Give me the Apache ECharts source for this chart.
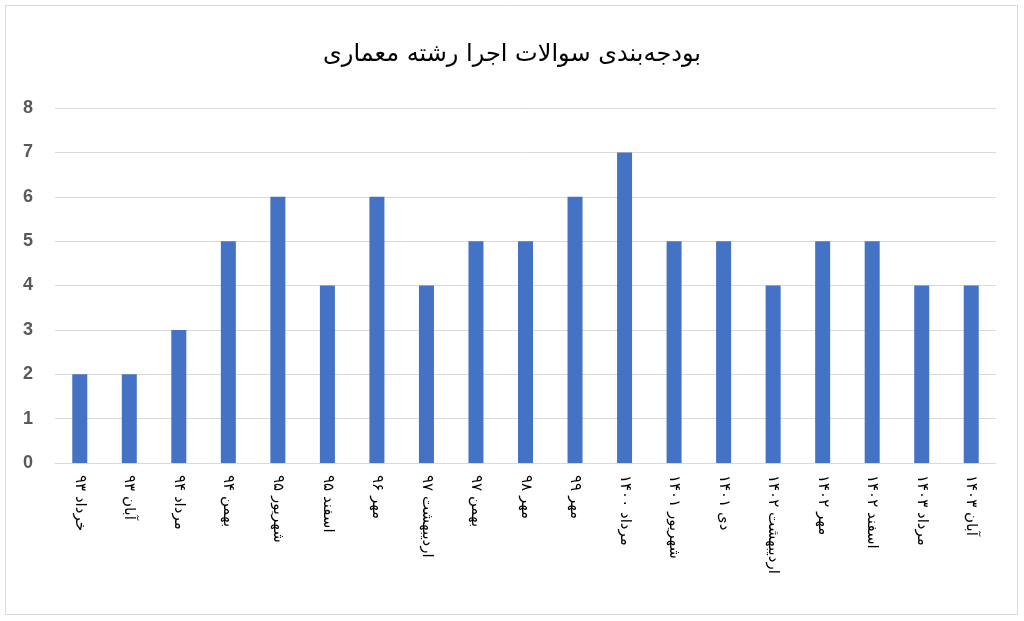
<!DOCTYPE html>
<html><head><meta charset="utf-8">
<script src="https://cdn.jsdelivr.net/npm/echarts@6/dist/echarts.min.js"></script>
<style>html,body{margin:0;padding:0;background:#fff}#c{width:1024px;height:621px}</style>
</head><body><div id="c"></div>
<script>
const categories = ['خرداد ۹۳','آبان ۹۳','مرداد ۹۴','بهمن ۹۴','شهریور ۹۵','اسفند ۹۵','مهر ۹۶','اردیبهشت ۹۷','بهمن ۹۷','مهر ۹۸','مهر ۹۹','مرداد ۱۴۰۰','شهریور ۱۴۰۱','دی ۱۴۰۱','اردیبهشت ۱۴۰۲','مهر ۱۴۰۲','اسفند ۱۴۰۲','مرداد ۱۴۰۳','آبان ۱۴۰۳'];
const values = [2,2,3,5,6,4,6,4,5,5,6,7,5,5,4,5,5,4,4];
const title = 'بودجه‌بندی سوالات اجرا رشته معماری';
const chart = echarts.init(document.getElementById('c'));
chart.setOption({
  backgroundColor:'#fff',
  title:{text:title,left:'center',top:38,textStyle:{fontFamily:'DejaVu Sans',fontSize:24,fontWeight:'normal',color:'#000'}},
  graphic:[{type:'rect',shape:{x:5.5,y:5.5,width:1012,height:609},style:{fill:'none',stroke:'#d9d9d9',lineWidth:1}}],
  grid:{left:55,right:28,top:108,bottom:158},
  xAxis:{type:'category',data:categories,axisTick:{show:false},axisLine:{lineStyle:{color:'#d9d9d9'}},
    axisLabel:{rotate:-90,fontFamily:'DejaVu Sans',fontSize:15,color:'#000',interval:0,margin:12}},
  yAxis:{type:'value',min:0,max:8,interval:1,axisLabel:{fontFamily:'Liberation Sans',fontSize:18,fontWeight:'bold',color:'#595959',margin:22},
    splitLine:{lineStyle:{color:'#d9d9d9'}}},
  series:[{type:'bar',data:values,barWidth:15,itemStyle:{color:'#4472c4'}}]
});
</script></body></html>
